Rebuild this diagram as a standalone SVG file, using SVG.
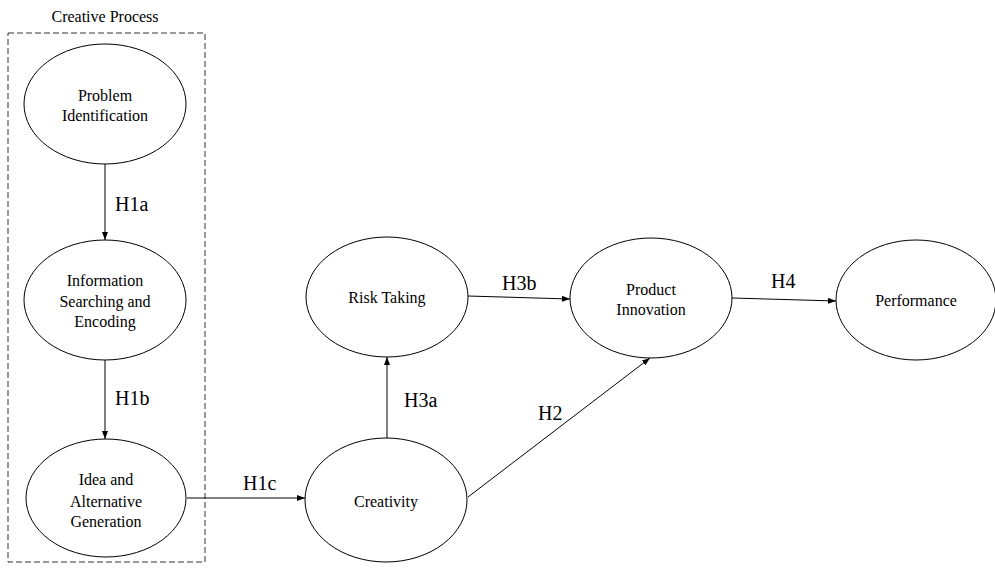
<svg xmlns="http://www.w3.org/2000/svg" width="995" height="572" viewBox="0 0 995 572">
<defs>
<style>
.node ellipse{fill:#fff;stroke:#000;stroke-width:1}
.t{font-family:"Liberation Serif","Times New Roman",serif;font-size:16px;fill:#000;text-anchor:middle}
.lbl{font-family:"Liberation Serif","Times New Roman",serif;font-size:20px;fill:#000}
.edge line{stroke:#000;stroke-width:1;marker-end:url(#ah)}
</style>
<marker id="ah" viewBox="0 0 8 6" refX="8" refY="3" markerWidth="8" markerHeight="6" markerUnits="userSpaceOnUse" orient="auto">
<path d="M0,0 L8,3 L0,6 z" fill="#000"/>
</marker>
</defs>
<rect width="995" height="572" fill="#fff"/>
<g id="creative-process">
<rect x="8" y="33" width="197" height="529" fill="none" stroke="#333" stroke-width="1" stroke-dasharray="6,3"/>
<text class="t" x="105" y="22">Creative Process</text>
</g>
<g class="edge" id="connectors">
<line x1="105" y1="164" x2="105" y2="240"/>
<line x1="105" y1="360" x2="105" y2="439"/>
<line x1="187" y1="498" x2="305" y2="498"/>
<line x1="387" y1="438" x2="387" y2="357"/>
<line x1="468" y1="296" x2="570" y2="299"/>
<line x1="732" y1="298" x2="836" y2="301"/>
<line x1="468" y1="497" x2="650" y2="358"/>
</g>
<g id="edge-labels">
<text class="lbl" x="115" y="211">H1a</text>
<text class="lbl" x="115" y="405">H1b</text>
<text class="lbl" x="243" y="490">H1c</text>
<text class="lbl" x="404" y="407">H3a</text>
<text class="lbl" x="502" y="290">H3b</text>
<text class="lbl" x="771" y="288">H4</text>
<text class="lbl" x="538" y="420">H2</text>
</g>
<g class="node" id="problem-identification">
<ellipse cx="105" cy="104" rx="81" ry="60"/>
<text class="t" x="105" y="101">Problem</text>
<text class="t" x="105" y="121">Identification</text>
</g>
<g class="node" id="information-searching">
<ellipse cx="105" cy="300" rx="81" ry="60"/>
<text class="t" x="105" y="286">Information</text>
<text class="t" x="105" y="307">Searching and</text>
<text class="t" x="105" y="327">Encoding</text>
</g>
<g class="node" id="idea-generation">
<ellipse cx="106" cy="498" rx="80" ry="59"/>
<text class="t" x="106" y="485">Idea and</text>
<text class="t" x="106" y="507">Alternative</text>
<text class="t" x="106" y="527">Generation</text>
</g>
<g class="node" id="creativity">
<ellipse cx="386" cy="500" rx="81" ry="62"/>
<text class="t" x="386" y="507">Creativity</text>
</g>
<g class="node" id="risk-taking">
<ellipse cx="387" cy="297" rx="81" ry="60"/>
<text class="t" x="387" y="303">Risk Taking</text>
</g>
<g class="node" id="product-innovation">
<ellipse cx="651" cy="298" rx="81" ry="60"/>
<text class="t" x="651" y="295">Product</text>
<text class="t" x="651" y="315">Innovation</text>
</g>
<g class="node" id="performance">
<ellipse cx="916" cy="300" rx="80" ry="60"/>
<text class="t" x="916" y="306">Performance</text>
</g>
</svg>
